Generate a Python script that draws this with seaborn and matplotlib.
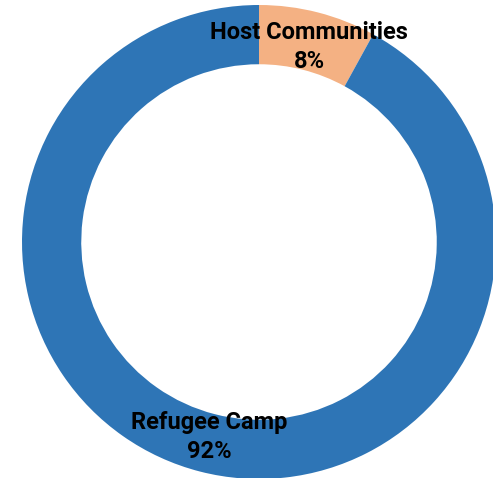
import numpy as np
import matplotlib
matplotlib.use("Agg")
import matplotlib.pyplot as plt
import seaborn as sns

# data
categories = ["Host Communities", "Refugee Camp"]
shares = [8, 92]
colors = ["#F4B183", "#2E75B6"]

sns.set_theme(style="white")
plt.rcParams['font.family'] = ['Roboto', 'DejaVu Sans']

fig = plt.figure(figsize=(4.93, 4.78), dpi=100)
# pie centre at ~(259, 242) px, outer radius ~237 px
ax = fig.add_axes([22 / 493, -1 / 478, 474 / 493, 474 / 478])

wedges, _ = ax.pie(shares, colors=colors, startangle=90, counterclock=False,
                   radius=1.0, wedgeprops=dict(width=0.25, edgecolor="none"))

# labels at the middle of each slice
total = float(sum(shares))
start = 0.0
for cat, val in zip(categories, shares):
    mid = (start + val / 2.0) / total * 2 * np.pi
    r = 0.848
    x = r * np.sin(mid)
    y = r * np.cos(mid)
    ax.text(x, y, "%s\n%d%%" % (cat, val), ha="center", va="center",
            fontsize=17, fontweight="bold", color="black", linespacing=1.32)
    start += val

ax.set_xlim(-1, 1)
ax.set_ylim(-1, 1)
ax.set_aspect("equal")
ax.axis("off")

fig.savefig("out.png", dpi=100)
plt.close()
